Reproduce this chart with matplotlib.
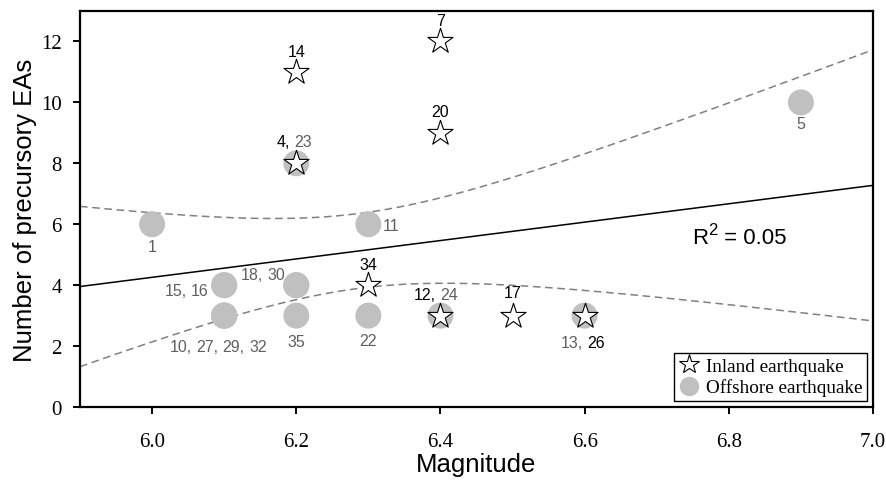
import numpy as np
import matplotlib
matplotlib.use('Agg')
import matplotlib.pyplot as plt
from matplotlib.lines import Line2D
from matplotlib.offsetbox import TextArea, HPacker, AnnotationBbox

'~~~~~~~~~~ DATA ~~~~~~~~~~'
# inland earthquakes (open stars)
inland_mag = [6.2, 6.4, 6.4, 6.2, 6.3, 6.4, 6.5, 6.6]
inland_eas = [11, 12, 9, 8, 4, 3, 3, 3]

# offshore earthquakes (grey circles), coinciding events repeated
offshore_mag = [6.0, 6.2, 6.3, 6.9, 6.1, 6.1, 6.2, 6.2,
                6.1, 6.1, 6.1, 6.1, 6.2, 6.3, 6.4, 6.6]
offshore_eas = [6, 8, 6, 10, 4, 4, 4, 4,
                3, 3, 3, 3, 3, 3, 3, 3]

x_ticks = [6.0, 6.2, 6.4, 6.6, 6.8, 7.0]
y_ticks = [0, 2, 4, 6, 8, 10, 12]

BLK = 'black'
GRY = '#5f5f5f'

# event numbers: (magnitude, EAs, [(text, colour), ...], offset in points)
labels = [
    (6.2, 11, [('14', BLK)], (0, 15)),
    (6.4, 12, [('7', BLK)], (0, 15)),
    (6.4, 9, [('20', BLK)], (0, 15.5)),
    (6.2, 8, [('4,', BLK), ('23', GRY)], (-1.5, 16)),
    (6.3, 4, [('34', BLK)], (0, 15)),
    (6.4, 3, [('12,', BLK), ('24', GRY)], (-3, 15.5)),
    (6.5, 3, [('17', BLK)], (0, 16.5)),
    (6.6, 3, [('13,', GRY), ('26', BLK)], (-1, -19.5)),
    (6.0, 6, [('1', GRY)], (0, -16)),
    (6.9, 10, [('5', GRY)], (0, -15.5)),
    (6.3, 6, [('11', GRY)], (16, -1)),
    (6.1, 4, [('15,', GRY), ('16', GRY)], (-27, -3.6)),
    (6.2, 4, [('18,', GRY), ('30', GRY)], (-24.3, 7.9)),
    (6.1, 3, [('10,', GRY), ('27,', GRY), ('29,', GRY), ('32', GRY)], (-4.3, -22.3)),
    (6.2, 3, [('35', GRY)], (0, -18.4)),
    (6.3, 3, [('22', GRY)], (0, -18.2)),
]

'~~~~~~~~~~ LINEAR REGRESSION + 95% CONFIDENCE BAND ~~~~~~~~~~'
x_all = np.array(inland_mag + offshore_mag)
y_all = np.array(inland_eas + offshore_eas, dtype=float)
n = len(x_all)
slope, intercept = np.polyfit(x_all, y_all, 1)
resid = y_all - (slope * x_all + intercept)
s = np.sqrt(np.sum(resid ** 2) / (n - 2))
sxx = np.sum((x_all - x_all.mean()) ** 2)
t_crit = 2.074  # t(0.975, df=22)

xx = np.linspace(5.9, 7.0, 200)
yy = slope * xx + intercept
half = t_crit * s * np.sqrt(1 / n + (xx - x_all.mean()) ** 2 / sxx)

'~~~~~~~~~~ PLOT ~~~~~~~~~~'
plt.rcParams['font.family'] = ['Liberation Sans', 'DejaVu Sans']

fig = plt.figure(figsize=(8.87, 4.81), dpi=100)
ax = fig.add_axes([0.0902, 0.1518, 0.8940, 0.8232])

ax.plot(xx, yy, color='black', lw=1.1, zorder=2)
ax.plot(xx, yy + half, color='#808080', lw=1.1, ls=(0, (5, 3)), zorder=2)
ax.plot(xx, yy - half, color='#808080', lw=1.1, ls=(0, (5, 3)), zorder=2)

ax.scatter(offshore_mag, offshore_eas, s=18.7 ** 2, color='#c0c0c0',
           edgecolors='none', zorder=3)
ax.scatter(inland_mag, inland_eas, s=19 ** 2, marker='*', facecolors='white',
           edgecolors='black', linewidths=0.8, zorder=4)

for x, y, pieces, off in labels:
    parts = [TextArea(t, textprops=dict(color=c, fontsize=11.5)) for t, c in pieces]
    box = HPacker(children=parts, align='baseline', pad=0, sep=3.2)
    ab = AnnotationBbox(box, (x, y), xybox=off, xycoords='data',
                        boxcoords='offset points', frameon=False,
                        box_alignment=(0.5, 0.5), pad=0, zorder=5)
    ax.add_artist(ab)

# R^2 with a large raised "2"
r_txt = ax.text(6.749, 5.225, 'R', fontsize=16, va='bottom', ha='left')
sup = ax.annotate('2', xy=(1, 0), xycoords=r_txt, xytext=(0.3, 8.1),
                  textcoords='offset points', fontsize=12, va='bottom', ha='left')
ax.annotate(' = 0.05', xy=(1, 0), xycoords=sup, xytext=(0, -8.1),
            textcoords='offset points', fontsize=16, va='bottom', ha='left')

ax.set_xlim(5.9, 7.0)
ax.set_ylim(0, 13)
ax.set_xticks(x_ticks)
ax.set_xticklabels(['%.1f' % v for v in x_ticks])
ax.set_yticks(y_ticks)
for sp in ax.spines.values():
    sp.set_linewidth(1.6)
ax.tick_params(direction='out', length=5, width=1.4, labelsize=15,
               labelfontfamily='Liberation Serif')
ax.tick_params(axis='x', pad=13)
ax.tick_params(axis='y', pad=8)

ax.set_xlabel('Magnitude', fontsize=18.5, labelpad=1)
ax.set_ylabel('Number of precursory EAs', fontsize=18.5, labelpad=3)

handles = [
    Line2D([], [], ls='none', marker='*', ms=15, mfc='white', mec='black', mew=0.8),
    Line2D([], [], ls='none', marker='o', ms=14, mfc='#c0c0c0', mec='none'),
]
leg = ax.legend(handles, ['Inland earthquake', 'Offshore earthquake'],
                loc='lower right', prop={'family': 'Liberation Serif', 'size': 13.8},
                frameon=True, fancybox=False, edgecolor='black', framealpha=1,
                borderaxespad=0.3, borderpad=0.25, handlelength=1.0,
                handletextpad=0.4, labelspacing=0.2)
leg.get_frame().set_linewidth(1.0)

fig.savefig('out.png', dpi=100)
